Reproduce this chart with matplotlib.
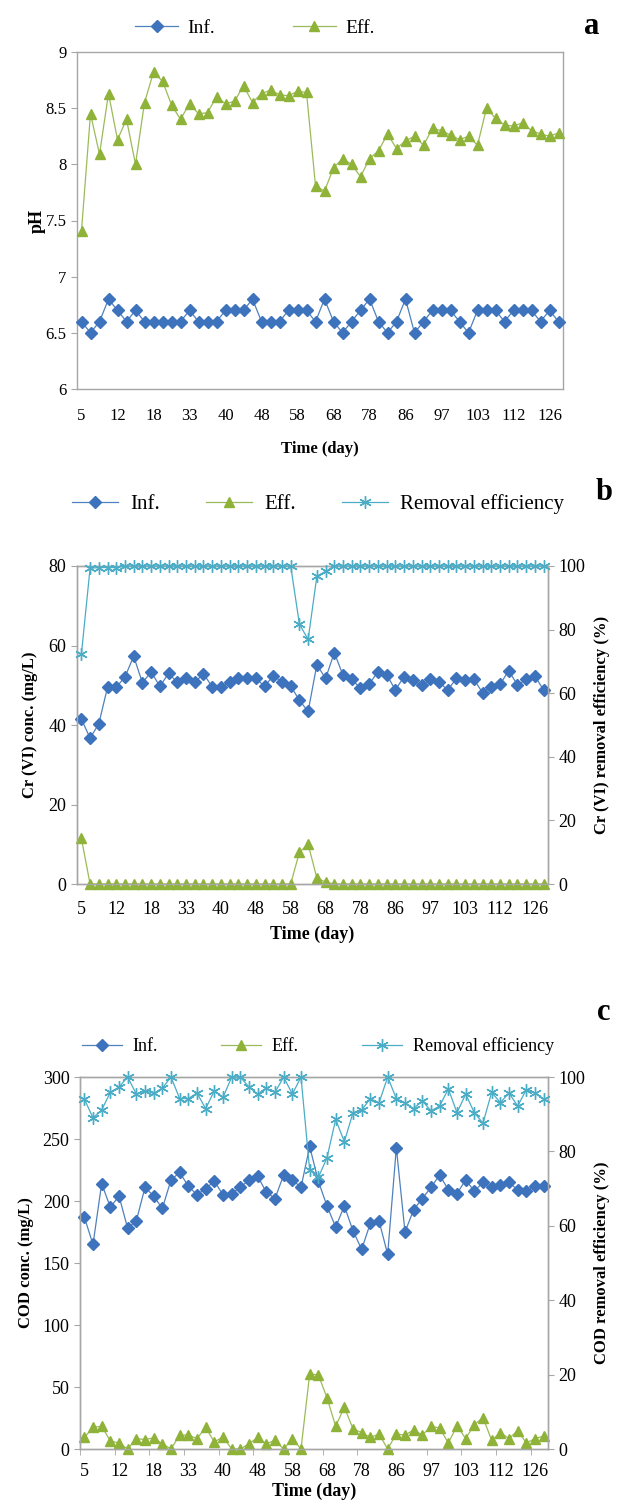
import matplotlib.pyplot as plt
import numpy as np
from matplotlib.lines import Line2D

plt.rcParams['font.family'] = ['Liberation Serif', 'DejaVu Serif']

# category axis: only every 4th sampling day is labelled
day_labels = ['5', '12', '18', '33', '40', '48', '58', '68', '78', '86', '97', '103', '112', '126']

# (a) pH
ph_inf = [6.6, 6.5, 6.6, 6.8, 6.7, 6.6, 6.7, 6.6, 6.6, 6.6, 6.6, 6.6, 6.7, 6.6, 6.6, 6.6, 6.7, 6.7,
          6.7, 6.8, 6.6, 6.6, 6.6, 6.7, 6.7, 6.7, 6.6, 6.8, 6.6, 6.5, 6.6, 6.7, 6.8, 6.6, 6.5, 6.6,
          6.8, 6.5, 6.6, 6.7, 6.7, 6.7, 6.6, 6.5, 6.7, 6.7, 6.7, 6.6, 6.7, 6.7, 6.7, 6.6, 6.7, 6.6]
ph_eff = [7.41, 8.45, 8.09, 8.63, 8.22, 8.40, 8.00, 8.55, 8.82, 8.74, 8.53, 8.40, 8.54, 8.45, 8.46,
          8.60, 8.54, 8.56, 8.70, 8.55, 8.63, 8.66, 8.62, 8.61, 8.65, 8.64, 7.81, 7.76, 7.97, 8.05,
          8.00, 7.89, 8.05, 8.12, 8.27, 8.14, 8.21, 8.25, 8.17, 8.32, 8.30, 8.26, 8.22, 8.25, 8.17,
          8.50, 8.41, 8.35, 8.34, 8.37, 8.30, 8.27, 8.25, 8.28]

# (b) Cr(VI)
cr_inf = [41.5, 36.7, 40.3, 49.5, 49.5, 52.1, 57.3, 50.6, 53.4, 49.7, 53.0, 50.7, 51.9, 50.7, 52.9,
          49.6, 49.6, 50.8, 51.8, 51.8, 51.8, 49.7, 52.4, 50.9, 49.8, 46.2, 43.4, 55.2, 51.7, 58.2,
          52.5, 51.5, 49.2, 50.3, 53.4, 52.7, 48.8, 52.2, 51.2, 50.0, 51.5, 50.8, 48.8, 51.7, 51.2,
          51.5, 48.1, 49.6, 50.2, 53.7, 50.0, 51.5, 52.3, 48.8]
cr_eff = [11.5, 0, 0, 0, 0, 0, 0, 0, 0, 0, 0, 0, 0, 0, 0, 0, 0, 0, 0, 0, 0, 0, 0, 0, 0,
          8.0, 10.0, 1.5, 0.5, 0, 0, 0, 0, 0, 0, 0, 0, 0, 0, 0, 0, 0, 0, 0, 0, 0, 0, 0, 0, 0,
          0, 0, 0, 0]
cr_rem = [72.2, 99.3, 99.5, 99.5, 99.5, 100, 100, 100, 100, 100, 100, 100, 100, 100, 100, 100, 100,
          100, 100, 100, 100, 100, 100, 100, 100, 81.7, 76.9, 96.8, 98.3, 100, 100, 100, 100, 100,
          100, 100, 100, 100, 100, 100, 100, 100, 100, 100, 100, 100, 100, 100, 100, 100, 100, 100,
          100, 100]

# (c) COD
cod_inf = [187, 165, 214, 195, 204, 178, 184, 211, 204, 194, 217, 223, 212, 205, 210, 216, 205, 206,
           211, 217, 220, 207, 202, 221, 217, 211, 244, 216, 196, 179, 196, 176, 161, 182, 184, 157,
           243, 175, 193, 202, 211, 221, 209, 206, 217, 208, 215, 211, 213, 215, 209, 208, 212, 212]
cod_eff = [9.3, 17.4, 18.3, 6.5, 4.8, 0, 8.4, 7.6, 9.0, 4.2, 0, 11.2, 11.2, 8.4, 17.4, 5.6, 9.8, 0,
           0, 4.2, 9.3, 4.2, 7.0, 0, 8.4, 0, 60.4, 59.8, 41.3, 18.3, 33.7, 16.3, 13.2, 9.3, 12.1, 0,
           12.1, 11.2, 15.4, 11.2, 18.3, 16.9, 4.8, 18.8, 8.4, 19.7, 25.3, 7.0, 13.2, 8.4, 14.9, 4.8,
           8.4, 10.4]
cod_rem = [94.1, 89.0, 91.1, 95.9, 97.3, 100, 95.4, 96.3, 95.6, 97.0, 100, 94.2, 94.2, 95.7, 91.5,
           96.3, 94.5, 100, 100, 97.3, 95.4, 97.0, 95.9, 100, 95.4, 100, 75.0, 73.0, 78.3, 88.6,
           82.6, 90.4, 91.1, 94.2, 93.0, 100, 94.2, 93.0, 91.5, 93.6, 90.9, 92.2, 96.8, 90.4, 95.4,
           90.4, 87.6, 95.9, 93.1, 95.7, 92.2, 96.6, 95.7, 94.1]

c_inf = '#3d72bd'
c_inf_line = '#4f81bd'
c_eff = '#8fb339'
c_eff_line = '#9bbb59'
c_rem = '#4bacc6'
spine_col = '#a6a6a6'

W, H = 632, 1507
fig = plt.figure(figsize=(W / 100, H / 100), dpi=100)


def box(x0, y0, x1, y1):
    # pixel box (top-left origin) -> figure fraction rect
    return [x0 / W, 1 - y1 / H, (x1 - x0) / W, (y1 - y0) / H]


def style_axis(ax, fs):
    for s in ax.spines.values():
        s.set_color(spine_col)
        s.set_linewidth(1.0)
    ax.tick_params(axis='both', colors=spine_col, labelcolor='black', labelsize=fs, length=4)


def inf_line(ax, x, y):
    ax.plot(x, y, color=c_inf_line, lw=0.9, marker='D', ms=6, mfc=c_inf, mec=c_inf, zorder=3,
            clip_on=False)


def eff_line(ax, x, y):
    ax.plot(x, y, color=c_eff_line, lw=0.9, marker='^', ms=7, mfc=c_eff, mec=c_eff, zorder=3,
            clip_on=False)


def rem_line(ax, x, y):
    ax.plot(x, y, color=c_rem, lw=0.9, marker=(6, 2, 0), ms=9, mec=c_rem, mew=1.0, zorder=3,
            clip_on=False)


h_inf = Line2D([], [], color=c_inf_line, lw=0.9, marker='D', ms=6, mfc=c_inf, mec=c_inf)
h_eff = Line2D([], [], color=c_eff_line, lw=0.9, marker='^', ms=7, mfc=c_eff, mec=c_eff)
h_rem = Line2D([], [], color=c_rem, lw=0.9, marker=(6, 2, 0), ms=9, mec=c_rem)

n = len(ph_inf)
x = np.arange(n)
tick_pos = np.arange(0, n, 4)

# ---------------- panel a ----------------
ax_a = fig.add_axes(box(77, 52, 563, 389))
inf_line(ax_a, x, ph_inf)
eff_line(ax_a, x, ph_eff)
ax_a.set_xlim(-0.5, n - 0.5)
ax_a.set_ylim(6, 9)
ax_a.set_yticks(np.arange(6, 9.01, 0.5))
ax_a.set_yticklabels(['6', '6.5', '7', '7.5', '8', '8.5', '9'])
ax_a.set_xticks(tick_pos)
ax_a.set_xticklabels(day_labels)
style_axis(ax_a, 12)
ax_a.tick_params(axis='x', length=0, pad=14)
ax_a.set_xlabel('Time (day)', fontsize=12, fontweight='bold', labelpad=12)
ax_a.set_ylabel('pH', fontsize=13, fontweight='bold', labelpad=0)
fig.legend([h_inf, h_eff], ['Inf.', 'Eff.'], loc='center', bbox_to_anchor=(255 / W, 1 - 28 / H),
           ncol=2, frameon=False, fontsize=14, columnspacing=4, handlelength=2.2, handletextpad=0.5)
fig.text(592 / W, 1 - 26 / H, 'a', fontsize=22, fontweight='bold', ha='center', va='center')

# ---------------- panel b ----------------
ax_b = fig.add_axes(box(77, 566, 548, 884))
ax_b2 = ax_b.twinx()
inf_line(ax_b, x, cr_inf)
eff_line(ax_b, x, cr_eff)
rem_line(ax_b2, x, cr_rem)
ax_b.set_xlim(-0.5, n - 0.5)
ax_b.set_ylim(0, 80)
ax_b.set_yticks([0, 20, 40, 60, 80])
ax_b2.set_ylim(0, 100)
ax_b2.set_yticks([0, 20, 40, 60, 80, 100])
ax_b.set_xticks(tick_pos)
ax_b.set_xticklabels(day_labels)
style_axis(ax_b, 13)
style_axis(ax_b2, 13)
ax_b.tick_params(axis='x', length=0, pad=12)
ax_b.set_xlabel('Time (day)', fontsize=13, fontweight='bold', labelpad=6)
ax_b.set_ylabel('Cr (VI) conc. (mg/L)', fontsize=12, fontweight='bold', labelpad=8)
ax_b2.set_ylabel('Cr (VI) removal efficiency (%)', fontsize=12, fontweight='bold', labelpad=6)
fig.legend([h_inf, h_eff, h_rem], ['Inf.', 'Eff.', 'Removal efficiency'], loc='center',
           bbox_to_anchor=(318 / W, 1 - 504 / H), ncol=3, frameon=False, fontsize=15,
           columnspacing=2.2, handlelength=2.2, handletextpad=0.6)
fig.text(604 / W, 1 - 492 / H, 'b', fontsize=22, fontweight='bold', ha='center', va='center')

# ---------------- panel c ----------------
ax_c = fig.add_axes(box(80, 1077, 548, 1449))
ax_c2 = ax_c.twinx()
inf_line(ax_c, x, cod_inf)
eff_line(ax_c, x, cod_eff)
rem_line(ax_c2, x, cod_rem)
ax_c.set_xlim(-0.5, n - 0.5)
ax_c.set_ylim(0, 300)
ax_c.set_yticks(np.arange(0, 301, 50))
ax_c2.set_ylim(0, 100)
ax_c2.set_yticks([0, 20, 40, 60, 80, 100])
ax_c.set_xticks(tick_pos)
ax_c.set_xticklabels(day_labels)
ax_c.set_xticks(np.arange(-0.5, n, 4), minor=True)
style_axis(ax_c, 13)
style_axis(ax_c2, 13)
ax_c.tick_params(axis='x', which='major', length=0, pad=10)
ax_c.tick_params(axis='x', which='minor', length=4, colors=spine_col)
ax_c.set_xlabel('Time (day)', fontsize=13, fontweight='bold', labelpad=2)
ax_c.set_ylabel('COD conc. (mg/L)', fontsize=12, fontweight='bold', labelpad=6)
ax_c2.set_ylabel('COD removal efficiency (%)', fontsize=12, fontweight='bold', labelpad=6)
fig.legend([h_inf, h_eff, h_rem], ['Inf.', 'Eff.', 'Removal efficiency'], loc='center',
           bbox_to_anchor=(318 / W, 1 - 1046 / H), ncol=3, frameon=False, fontsize=13,
           columnspacing=3.5, handlelength=2.2, handletextpad=0.6)
fig.text(604 / W, 1 - 1012 / H, 'c', fontsize=22, fontweight='bold', ha='center', va='center')

fig.savefig('out.png', dpi=100)
